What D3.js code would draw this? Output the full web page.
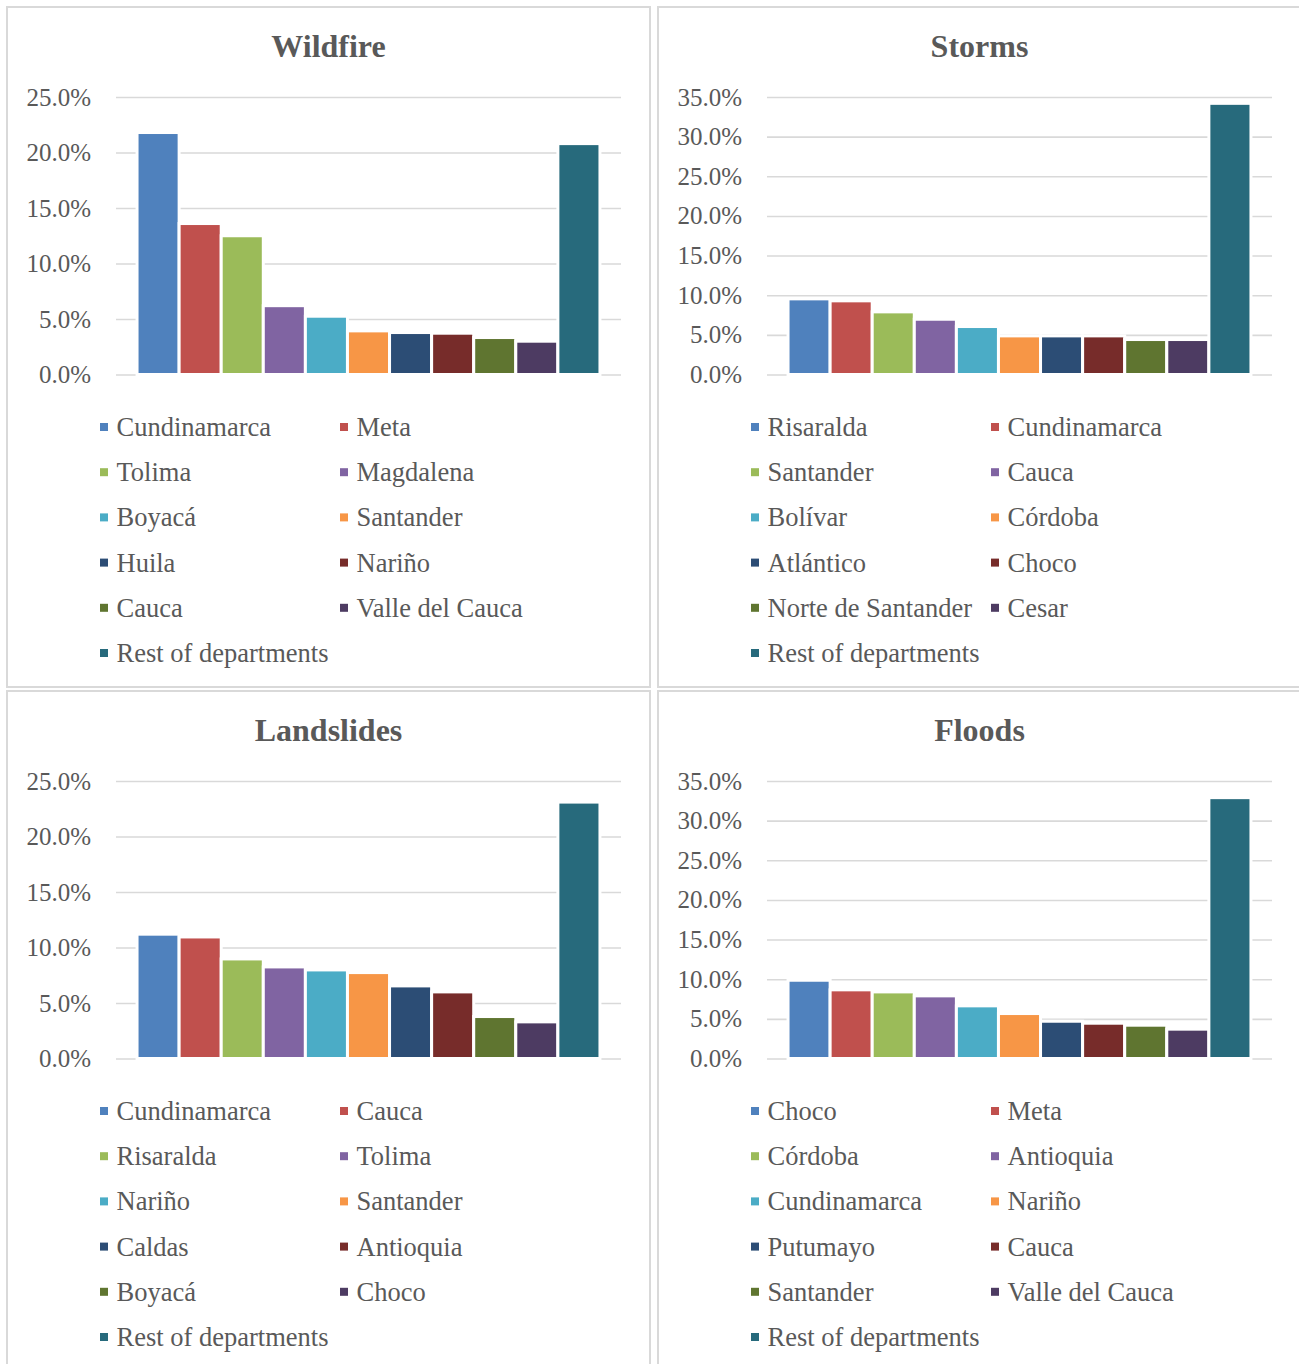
<!DOCTYPE html>
<html>
  <head>
    <meta charset="UTF-8">
    <title>Disaster share by department</title>
    <style>
      body {margin: 0; background: #fff}
      #chart svg {display: block}
      text {font-family: "Liberation Serif", "Times New Roman", serif; fill: #595959}
      .title {font-size: 32px; font-weight: bold; text-anchor: middle}
      .tick text {font-size: 25px}
      .legend text {font-size: 26.5px}
    </style>
  </head>
  <body>
    <div id="chart"></div>
    <script src="https://d3js.org/d3.v7.min.js"></script>
    <script>

const colors = ["#4F81BD", "#C0504D", "#9BBB59", "#8064A2", "#4BACC6", "#F79646",
  "#2C4D75", "#772C2A", "#5F7530", "#4D3B62", "#276A7C"];

const ticks25 = [0, 5, 10, 15, 20, 25];
const ticks35 = [0, 5, 10, 15, 20, 25, 30, 35];

const wildfireNames = ["Cundinamarca", "Meta", "Tolima", "Magdalena", "Boyacá", "Santander",
  "Huila", "Nariño", "Cauca", "Valle del Cauca", "Rest of departments"];
const wildfireValues = [21.8, 13.6, 12.5, 6.2, 5.25, 3.93, 3.78, 3.72, 3.33, 3.0, 20.8];

const stormsNames = ["Risaralda", "Cundinamarca", "Santander", "Cauca", "Bolívar", "Córdoba",
  "Atlántico", "Choco", "Norte de Santander", "Cesar", "Rest of departments"];
const stormsValues = [9.54, 9.29, 7.9, 6.97, 6.05, 4.87, 4.87, 4.87, 4.41, 4.41, 34.2];

const landslidesNames = ["Cundinamarca", "Cauca", "Risaralda", "Tolima", "Nariño", "Santander",
  "Caldas", "Antioquia", "Boyacá", "Choco", "Rest of departments"];
const landslidesValues = [11.2, 10.95, 8.97, 8.25, 7.98, 7.74, 6.54, 6.0, 3.78, 3.3, 23.1];

const floodsNames = ["Choco", "Meta", "Córdoba", "Antioquia", "Cundinamarca", "Nariño",
  "Putumayo", "Cauca", "Santander", "Valle del Cauca", "Rest of departments"];
const floodsValues = [9.87, 8.66, 8.4, 7.9, 6.64, 5.67, 4.7, 4.45, 4.2, 3.7, 32.9];

const panels = [
  {title: "Wildfire", names: wildfireNames, values: wildfireValues, ticks: ticks25},
  {title: "Storms", names: stormsNames, values: stormsValues, ticks: ticks35},
  {title: "Landslides", names: landslidesNames, values: landslidesValues, ticks: ticks25},
  {title: "Floods", names: floodsNames, values: floodsValues, ticks: ticks35}
];

const width = 1299, height = 1364;

const svg = d3.select("#chart").append("svg")
  .attr("width", width)
  .attr("height", height);

panels.forEach((p, i) => {
  const col = i % 2, row = Math.floor(i / 2);
  const g = svg.append("g")
    .attr("transform", `translate(${col * 651},${row * 684})`);

  // frame
  g.append("rect")
    .attr("x", 7).attr("y", 7)
    .attr("width", 643).attr("height", 680)
    .attr("fill", "none")
    .attr("stroke", "#d9d9d9")
    .attr("stroke-width", 2);

  g.append("text")
    .attr("class", "title")
    .attr("x", 328.5)
    .attr("y", 57)
    .text(p.title);

  const x = d3.scaleBand().domain(p.names).range([116, 621]).paddingInner(0).paddingOuter(0.5);
  const y = d3.scaleLinear().domain([0, d3.max(p.ticks)]).range([374.5, 97]);

  const axis = g.append("g")
    .attr("transform", "translate(116,0)")
    .call(d3.axisLeft(y)
      .tickValues(p.ticks)
      .tickSize(-505)
      .tickPadding(25)
      .tickFormat(d => d.toFixed(1) + "%"));
  axis.select(".domain").remove();
  axis.selectAll(".tick line").attr("stroke", "#d9d9d9").attr("stroke-width", 1.6);
  axis.selectAll(".tick text").attr("fill", "#595959");

  g.selectAll("rect.bar")
    .data(p.values)
    .join("rect")
    .attr("class", "bar")
    .attr("x", (d, j) => x(p.names[j]))
    .attr("y", d => y(d))
    .attr("width", x.bandwidth())
    .attr("height", d => y(0) - y(d))
    .attr("fill", (d, j) => colors[j])
    .attr("stroke", "#fff")
    .attr("stroke-width", 3);

  const legend = g.append("g").attr("class", "legend");
  const item = legend.selectAll("g")
    .data(p.names)
    .join("g")
    .attr("transform", (d, j) => `translate(${j % 2 ? 340 : 100},${427 + Math.floor(j / 2) * 45.2})`);
  item.append("rect")
    .attr("x", 0).attr("y", -4)
    .attr("width", 8).attr("height", 8)
    .attr("fill", (d, j) => colors[j]);
  item.append("text")
    .attr("x", 16.5)
    .attr("y", 9)
    .text(d => d);
});

    </script>
  </body>
</html>
